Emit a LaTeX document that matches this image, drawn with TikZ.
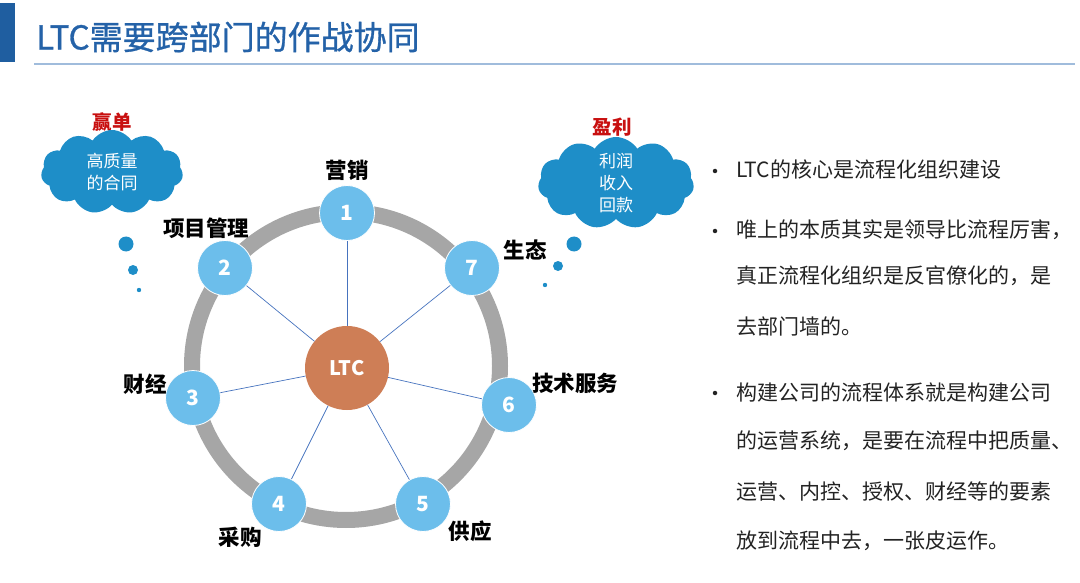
\documentclass[tikz,border=0pt]{standalone}
\usepackage{fontspec}
\setmainfont{Noto Sans CJK SC}
\newfontfamily\titlefont{Noto Sans CJK SC}[FakeBold=0.9]
\usepackage{tikz}
\usetikzlibrary{shapes.symbols,positioning,calc}
\usepackage{xcolor}
\definecolor{cTitle}{RGB}{36,98,168}
\definecolor{cBar}{RGB}{31,94,160}
\definecolor{cRule}{RGB}{160,188,220}
\definecolor{cRing}{RGB}{166,166,166}
\definecolor{cNode}{RGB}{108,190,235}
\definecolor{cCore}{RGB}{206,126,86}
\definecolor{cSpoke}{RGB}{70,115,190}
\definecolor{cCloud}{RGB}{30,142,200}
\definecolor{cWin}{RGB}{200,16,16}
\definecolor{cBody}{RGB}{35,35,35}

\begin{document}
\begin{tikzpicture}[x=1pt,y=-1pt,
  numnode/.style={circle,fill=cNode,draw=white,line width=0.8pt,minimum size=55pt,
    inner sep=0pt,text=white,font=\fontsize{21}{23}\selectfont\bfseries},
  corenode/.style={circle,fill=cCore,minimum size=84pt,inner sep=0pt,
    text=white,font=\fontsize{20}{22}\selectfont\bfseries},
  dept/.style={font=\fontsize{21.5}{23}\selectfont\bfseries,inner sep=0pt},
  spoke/.style={cSpoke,line width=0.7pt},
  cloudbox/.style={cloud,cloud puffs=11,cloud puff arc=115,cloud ignores aspect,
    fill=cCloud,inner sep=0pt,align=center,text=white,font=\fontsize{17}{22}\selectfont},
  goal/.style={text=cWin,font=\fontsize{19.5}{21}\selectfont\bfseries,inner sep=0pt},
  dot/.style={circle,fill=cBody,minimum size=4.5pt,inner sep=0pt},
  bodyline/.style={anchor=west,inner sep=0pt,text=cBody,font=\fontsize{21}{24}\selectfont}]
  \useasboundingbox (0,0) rectangle (1080,583);
  % Title
  \fill[cBar] (0,3) rectangle (15,62);
  \node[anchor=west,inner sep=0pt,text=cTitle,font=\fontsize{33}{36}\titlefont]
    (title) at (36,37) {LTC需要跨部门的作战协同};
  \draw[cRule,line width=1.2pt] (34,64) -- (1075,64);
  % Ring
  \coordinate (hub) at (346,366);
  \draw[cRing,line width=16pt] (hub) circle (154);
  \node[corenode] (core) at (347,368) {LTC};
  \foreach \i/\x/\y in {1/347/213, 2/225/268, 3/193/398, 4/279/504,
                        5/423/504, 6/509/405, 7/472/268}
    \node[numnode] (n\i) at (\x,\y) {\i};
  \foreach \i in {1,...,7}
    \draw[spoke] (core) -- (n\i);
  % Departments
  \node[dept] (sales)   at (347,170) {营销};
  \node[dept] (project) at (206,228) {项目管理};
  \node[dept] (finance) at (145,384) {财经};
  \node[dept] (purchase) at (240,537) {采购};
  \node[dept] (supply)  at (470,531) {供应};
  \node[dept] (service) at (575,383) {技术服务};
  \node[dept] (eco)     at (525,250) {生态};
  % Clouds
  \node[goal] (win) at (112,122) {赢单};
  \node[cloudbox,minimum width=142pt,minimum height=84pt] (wincloud) at (112,172)
    {高质量\\的合同};
  \fill[cCloud] (126,244) circle (7.5) (133,270) circle (5) (139,290) circle (2.2);
  \node[goal] (profit) at (612,127) {盈利};
  \node[cloudbox,minimum width=156pt,minimum height=92pt] (profitcloud) at (616,183)
    {利润\\收入\\回款};
  \fill[cCloud] (574,244) circle (7.5) (558,266) circle (5) (545,285) circle (2.2);
  % Notes
  \node[dot] (b1) at (715,171) {};
  \node[dot] (b2) at (715,231) {};
  \node[dot] (b3) at (715,393) {};
  \node[bodyline] (l1) at (736,170) {LTC的核心是流程化组织建设};
  \node[bodyline] (l2) at (736,230) {唯上的本质其实是领导比流程厉害，};
  \node[bodyline] (l3) at (736,276) {真正流程化组织是反官僚化的，是};
  \node[bodyline] (l4) at (736,326) {去部门墙的。};
  \node[bodyline] (l5) at (736,392) {构建公司的流程体系就是构建公司};
  \node[bodyline] (l6) at (736,441) {的运营系统，是要在流程中把质量、};
  \node[bodyline] (l7) at (736,492) {运营、内控、授权、财经等的要素};
  \node[bodyline] (l8) at (736,541) {放到流程中去，一张皮运作。};
\end{tikzpicture}
\end{document}
